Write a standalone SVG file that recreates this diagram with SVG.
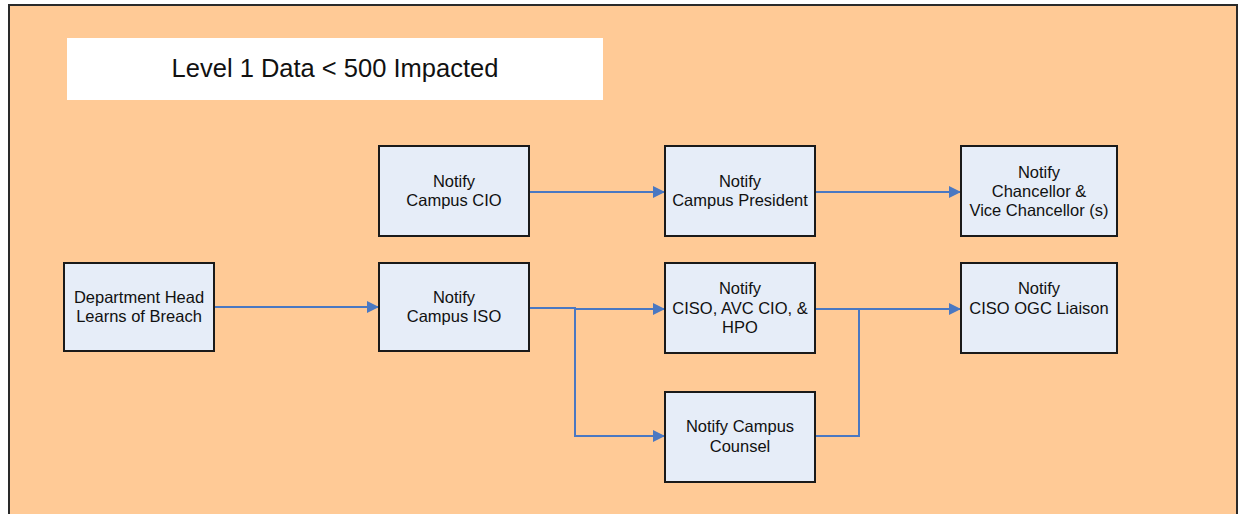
<svg xmlns="http://www.w3.org/2000/svg" width="1239" height="514" viewBox="0 0 1239 514">
<style>
.node rect{fill:#E6EDF8;stroke:#1a1a1a;stroke-width:2}
.node text{font-family:"Liberation Sans",Arial,sans-serif;font-size:16.5px;fill:#111;text-anchor:middle}
.conn path{fill:none;stroke:#4A78C2;stroke-width:2}
</style>
<defs>
<marker id="arr" viewBox="0 0 12 12" refX="12" refY="6" markerWidth="12" markerHeight="12" markerUnits="userSpaceOnUse" orient="auto">
<path d="M0,0 L12,6 L0,12 z" fill="#4A78C2"/>
</marker>
</defs>
<rect x="0" y="0" width="1239" height="514" fill="#ffffff"/>
<rect x="9" y="5" width="1228" height="530" fill="#FFCA96" stroke="#2a2a2a" stroke-width="2"/>
<g id="title">
<rect x="67" y="38" width="536" height="62" fill="#ffffff"/>
<text x="335" y="77" font-family="'Liberation Sans',Arial,sans-serif" font-size="25.5" fill="#111" text-anchor="middle">Level 1 Data &lt; 500 Impacted</text>
</g>
<g class="conn" id="connectors">
<path d="M214,307 H379" marker-end="url(#arr)"/>
<path d="M529,192 H665" marker-end="url(#arr)"/>
<path d="M815,192 H961" marker-end="url(#arr)"/>
<path d="M529,308 H575 V309 H665" marker-end="url(#arr)"/>
<path d="M575,308 V436 H665" marker-end="url(#arr)"/>
<path d="M815,309 H961" marker-end="url(#arr)"/>
<path d="M815,436 H859 V309"/>
</g>
<g class="node" id="dept">
<rect x="64" y="263" width="150" height="88"/>
<text x="139" y="303">Department Head</text>
<text x="139" y="322">Learns of Breach</text>
</g>
<g class="node" id="iso">
<rect x="379" y="263" width="150" height="88"/>
<text x="454" y="303">Notify</text>
<text x="454" y="322">Campus ISO</text>
</g>
<g class="node" id="cio">
<rect x="379" y="146" width="150" height="90"/>
<text x="454" y="187">Notify</text>
<text x="454" y="206">Campus CIO</text>
</g>
<g class="node" id="president">
<rect x="665" y="146" width="150" height="90"/>
<text x="740" y="187">Notify</text>
<text x="740" y="206">Campus President</text>
</g>
<g class="node" id="chancellor">
<rect x="961" y="146" width="156" height="90"/>
<text x="1039" y="178">Notify</text>
<text x="1039" y="197">Chancellor &amp;</text>
<text x="1039" y="216">Vice Chancellor (s)</text>
</g>
<g class="node" id="avc">
<rect x="665" y="263" width="150" height="90"/>
<text x="740" y="294">Notify</text>
<text x="740" y="314">CISO, AVC CIO, &amp;</text>
<text x="740" y="333">HPO</text>
</g>
<g class="node" id="ogc">
<rect x="961" y="263" width="156" height="90"/>
<text x="1039" y="294">Notify</text>
<text x="1039" y="314">CISO OGC Liaison</text>
</g>
<g class="node" id="counsel">
<rect x="665" y="392" width="150" height="90"/>
<text x="740" y="432">Notify Campus</text>
<text x="740" y="452">Counsel</text>
</g>
</svg>
